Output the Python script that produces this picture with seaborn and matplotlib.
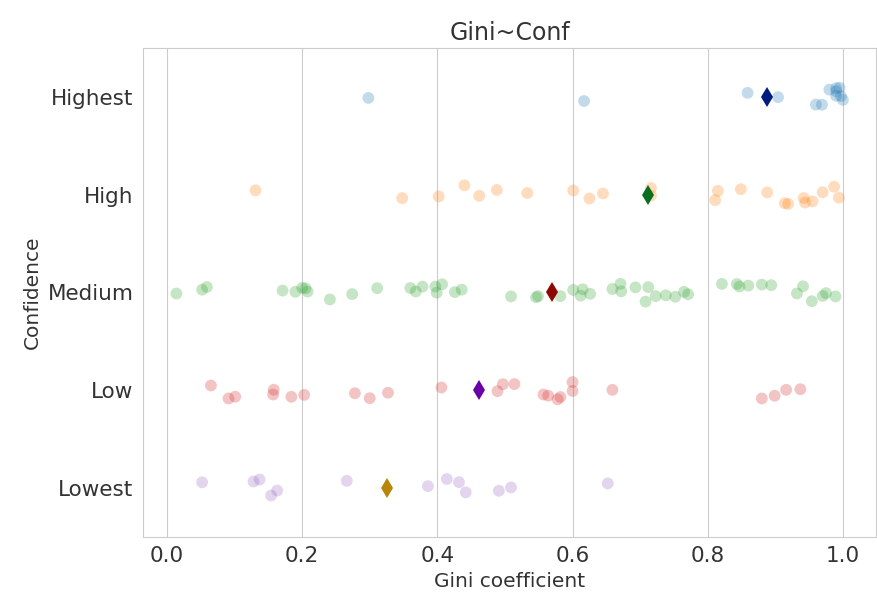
import matplotlib
matplotlib.use("Agg")
import matplotlib.pyplot as plt
import numpy as np
import pandas as pd
import seaborn as sns

# Gini coefficient values per confidence level
highest = [0.298, 0.617, 0.859, 0.904, 0.960, 0.969, 0.980, 0.990, 0.990,
           0.990, 0.995, 0.997, 1.000]
high = [0.131, 0.348, 0.402, 0.440, 0.462, 0.488, 0.533, 0.601, 0.625, 0.645,
        0.716, 0.716, 0.811, 0.815, 0.849, 0.888, 0.914, 0.919, 0.942, 0.944,
        0.955, 0.970, 0.987, 0.994]
medium = [0.014, 0.052, 0.059, 0.171, 0.190, 0.200, 0.205, 0.208, 0.241, 0.274,
          0.311, 0.360, 0.368, 0.378, 0.397, 0.399, 0.407, 0.426, 0.436,
          0.509, 0.546, 0.549, 0.582, 0.601, 0.612, 0.615, 0.626, 0.659, 0.672,
          0.671, 0.693, 0.708, 0.712, 0.723, 0.738, 0.752, 0.765, 0.771, 0.821,
          0.843, 0.847, 0.860, 0.880, 0.894, 0.932, 0.941, 0.954, 0.970, 0.975,
          0.989]
low = [0.065, 0.091, 0.101, 0.157, 0.158, 0.184, 0.203, 0.278, 0.300, 0.327,
       0.406, 0.489, 0.497, 0.514, 0.557, 0.564, 0.578, 0.582, 0.600, 0.600,
       0.659, 0.880, 0.899, 0.916, 0.937]
lowest = [0.052, 0.128, 0.137, 0.154, 0.163, 0.266, 0.386, 0.414, 0.432, 0.442,
          0.491, 0.509, 0.652]

levels = ["Highest", "High", "Medium", "Low", "Lowest"]
point_colors = ["#1f77b4", "#ff7f0e", "#2ca02c", "#d62728", "#9467bd"]
mean_colors = ["#001c7f", "#0a7020", "#8c0800", "#6a00a8", "#b8850a"]

df = pd.concat([
    pd.DataFrame({"gini": vals, "conf": lvl})
    for lvl, vals in zip(levels, [highest, high, medium, low, lowest])
])

sns.set_style("whitegrid")
plt.rcParams["font.family"] = ["DejaVu Sans"]
plt.rcParams["text.color"] = "#333333"
plt.rcParams["axes.labelcolor"] = "#333333"
plt.rcParams["xtick.color"] = "#333333"
plt.rcParams["ytick.color"] = "#333333"

fig, ax = plt.subplots(figsize=(8.78, 6.01), dpi=100)
fig.subplots_adjust(left=0.163, right=0.998, top=0.92, bottom=0.107)

np.random.seed(3)
sns.stripplot(data=df, x="gini", y="conf", hue="conf", order=levels,
              hue_order=levels, palette=point_colors, alpha=0.27, size=8.5,
              linewidth=0, legend=False, ax=ax)

# mean per level as a diamond
sns.pointplot(data=df, x="gini", y="conf", hue="conf", order=levels,
              hue_order=levels, palette=mean_colors, estimator="mean",
              errorbar=None, markers="d", linestyle="none", markersize=10.5,
              markeredgewidth=0, legend=False, zorder=10, ax=ax)

ax.grid(axis="y", visible=False)
ax.set_xticks([0.0, 0.2, 0.4, 0.6, 0.8, 1.0])
ax.tick_params(axis="both", labelsize=15.5)
ax.set_xlabel("Gini coefficient", fontsize=14.5)
ax.set_ylabel("Confidence", fontsize=14.5)
ax.set_title("Gini~Conf", fontsize=17)

fig.savefig("out.png", dpi=100)
